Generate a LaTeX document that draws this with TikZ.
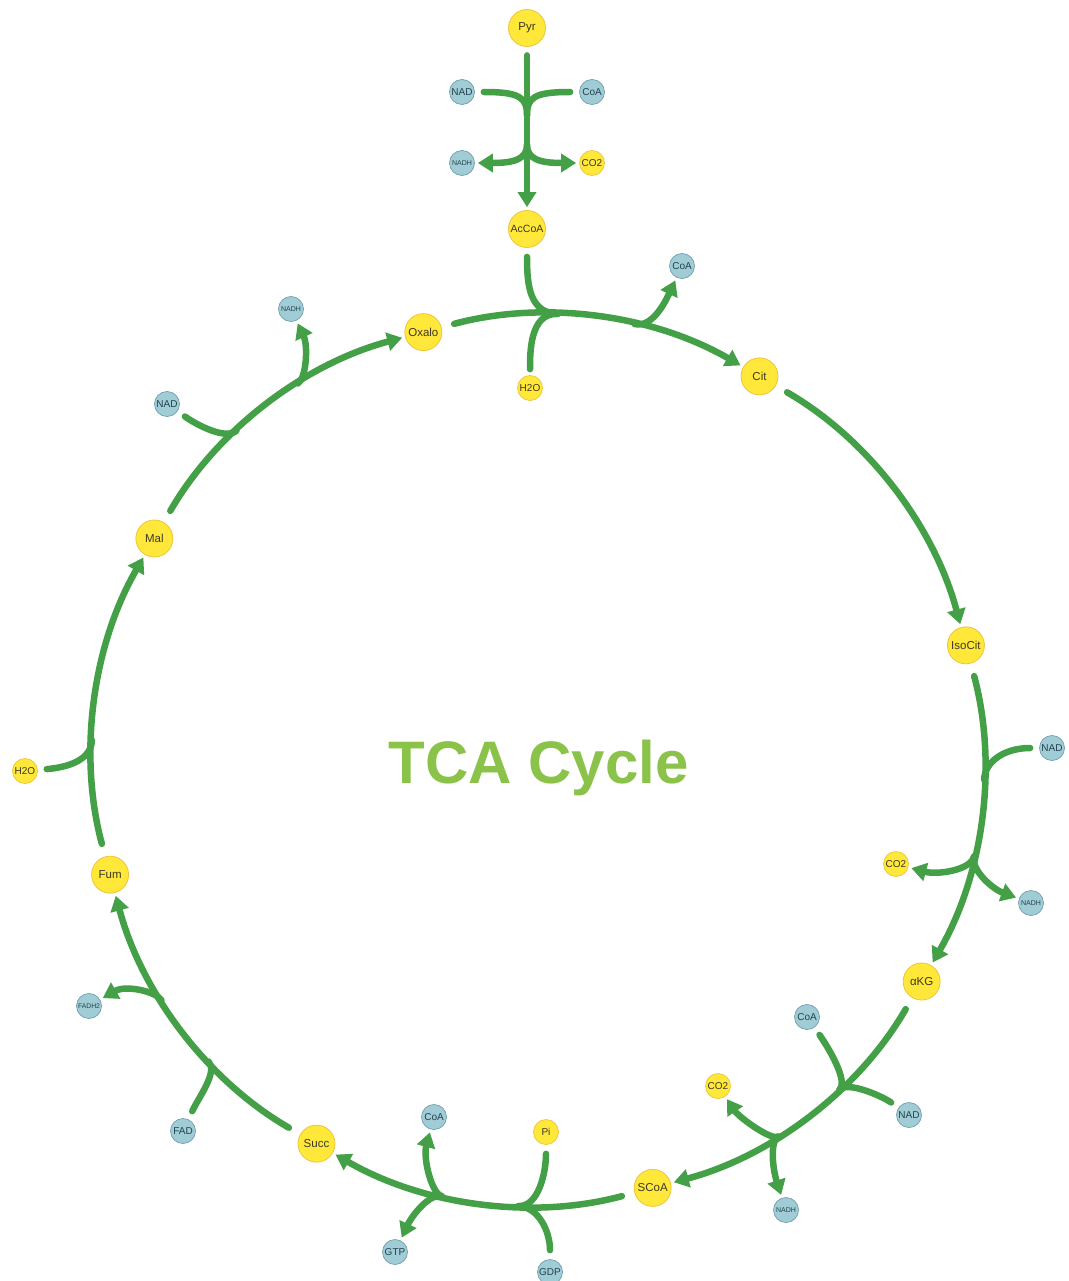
\documentclass[tikz,border=0pt]{standalone}
\usepackage{fontspec}
\setmainfont{Liberation Sans}
\usetikzlibrary{arrows.meta,calc}
\definecolor{metfill}{RGB}{255,232,58}
\definecolor{metdraw}{RGB}{238,196,60}
\definecolor{mettext}{RGB}{60,56,40}
\definecolor{coffill}{RGB}{160,204,214}
\definecolor{cofdraw}{RGB}{112,158,172}
\definecolor{coftext}{RGB}{36,66,78}
\definecolor{rxgreen}{RGB}{67,160,71}
\definecolor{titlegreen}{RGB}{139,195,74}
\tikzset{
  met/.style={circle, draw=metdraw, fill=metfill, line width=0.8pt, minimum size=37pt, inner sep=0pt, text=mettext, font=\fontsize{11.5}{12}\selectfont},
  cof/.style={circle, line width=0.7pt, minimum size=25pt, inner sep=0pt, font=\fontsize{10}{10}\selectfont},
  cofy/.style={cof, draw=metdraw, fill=metfill, text=mettext},
  cofb/.style={cof, draw=cofdraw, fill=coffill, text=coftext},
  tinytext/.style={font=\fontsize{7}{7}\selectfont},
  rxn/.style={draw=rxgreen, line width=6.5pt, line cap=round},
  prod/.style={rxn, -{Triangle[length=15pt,width=18pt]}, shorten >=3pt},
  subs/.style={rxn, shorten <=9pt},
  mainarc/.style={prod, shorten <=13pt},
  arcfortyfive/.style={bend left=22.5, looseness=0.885},
  jn/.style={coordinate},
}
\begin{document}
\begin{tikzpicture}[x=1pt,y=1pt]
\useasboundingbox (0,0) rectangle (1068,-1281);
\coordinate (C) at (538,-760);

% main metabolites
\node[met] (Pyr) at (527,-28) {Pyr};
\node[met, font=\fontsize{10.5}{11}\selectfont] (AcCoA) at (527,-229) {AcCoA};
\node[met] (Oxalo) at ([shift={(105:443pt)}]C) {Oxalo};
\node[met] (Cit) at ([shift={(60:443pt)}]C) {Cit};
\node[met] (IsoCit) at ([shift={(15:443pt)}]C) {IsoCit};
\node[met] (aKG) at ([shift={(-30:443pt)}]C) {αKG};
\node[met] (SCoA) at ([shift={(-75:443pt)}]C) {SCoA};
\node[met] (Succ) at ([shift={(-120:443pt)}]C) {Succ};
\node[met] (Fum) at ([shift={(-165:443pt)}]C) {Fum};
\node[met] (Mal) at ([shift={(150:443pt)}]C) {Mal};

% cofactors
\node[cofb] (NADa) at (462,-92) {NAD};
\node[cofb] (CoAa) at (592,-92) {CoA};
\node[cofb, tinytext] (NADHa) at (462,-163) {NADH};
\node[cofy] (COa) at (592,-163) {CO2};
\node[cofb] (CoAb) at (682,-266) {CoA};
\node[cofy] (HOb) at (530,-388) {H2O};
\node[cofb] (NADc) at (1052,-748) {NAD};
\node[cofy] (COc) at (896,-864) {CO2};
\node[cofb, tinytext] (NADHc) at (1031,-903) {NADH};
\node[cofb] (CoAd) at (807,-1017) {CoA};
\node[cofb] (NADd) at (909,-1115) {NAD};
\node[cofy] (COd) at (718,-1086) {CO2};
\node[cofb, tinytext] (NADHd) at (786,-1210) {NADH};
\node[cofb] (CoAe) at (434,-1117) {CoA};
\node[cofy] (Pie) at (546,-1132) {Pi};
\node[cofb] (GTPe) at (395,-1252) {GTP};
\node[cofb] (GDPe) at (550,-1272) {GDP};
\node[cofb] (FADf) at (183,-1131) {FAD};
\node[cofb, font=\fontsize{6.8}{7}\selectfont] (FADHf) at (89,-1006) {FADH2};
\node[cofy] (HOg) at (25,-771) {H2O};
\node[cofb] (NADh) at (167,-404) {NAD};
\node[cofb, tinytext] (NADHh) at (291,-309) {NADH};

% main reactions (junction points placed on the drawn curves)
\draw[prod, shorten <=8.5pt] (Pyr) -- node[jn, pos=0.42] (pa) {} node[jn, pos=0.6] (qa) {} (AcCoA);
\draw[mainarc] (Oxalo) to[arcfortyfive] node[jn, pos=0.375] (mb) {} node[jn, pos=0.625] (bb) {} (Cit);
\draw[mainarc] (Cit) to[arcfortyfive] (IsoCit);
\draw[mainarc] (IsoCit) to[arcfortyfive] node[jn, pos=0.375] (mc) {} node[jn, pos=0.625] (bc) {} (aKG);
\draw[mainarc] (aKG) to[arcfortyfive] node[jn, pos=0.375] (md) {} node[jn, pos=0.625] (bd) {} (SCoA);
\draw[mainarc] (SCoA) to[arcfortyfive] node[jn, pos=0.375] (me) {} node[jn, pos=0.625] (be) {} (Succ);
\draw[mainarc] (Succ) to[arcfortyfive] node[jn, pos=0.375] (mf) {} node[jn, pos=0.625] (bf) {} (Fum);
\draw[mainarc] (Fum) to[arcfortyfive] node[jn, pos=0.375] (mg) {} (Mal);
\draw[mainarc] (Mal) to[arcfortyfive] node[jn, pos=0.375] (mh) {} node[jn, pos=0.625] (bh) {} (Oxalo);

% Pyr -> AcCoA
\draw[subs] (NADa) to[out=0, in=90, out distance=45pt, in distance=18pt] (pa);
\draw[subs] (CoAa) to[out=180, in=90, out distance=45pt, in distance=18pt] (pa);
\draw[prod] (qa) to[out=-90, in=0, out distance=14pt, in distance=40pt] (NADHa);
\draw[prod] (qa) to[out=-90, in=180, out distance=14pt, in distance=40pt] (COa);

% citrate synthase
\draw[subs] (AcCoA) to[out=-90, in=177.5, out distance=38pt, in distance=28pt] (mb);
\draw[subs, shorten <=6pt] (HOb) to[out=90, in=177.5, out distance=22pt, in distance=28pt] (mb);
\draw[prod] (bb) to[out=-12.5, in=245, out distance=18pt, in distance=28pt] (CoAb);

% isocitrate dehydrogenase
\draw[subs] (NADc) to[out=180, in=87.5, out distance=35pt, in distance=18pt] (mc);
\draw[prod] (bc) to[out=-102.5, in=-15, out distance=14pt, in distance=30pt] (COc);
\draw[prod] (bc) to[out=-102.5, in=160, out distance=14pt, in distance=28pt] (NADHc);

% alpha-KG dehydrogenase
\draw[subs] (CoAd) to[out=-55, in=42.5, out distance=25pt, in distance=12pt] (md);
\draw[subs] (NADd) to[out=145, in=42.5, out distance=20pt, in distance=12pt] (md);
\draw[prod] (bd) to[out=-147.5, in=-56, out distance=8pt, in distance=25pt] (COd);
\draw[prod] (bd) to[out=-147.5, in=108, out distance=10pt, in distance=30pt] (NADHd);

% succinyl-CoA synthetase
\draw[subs] (Pie) to[out=-90, in=-2.5, out distance=28pt, in distance=20pt] (me);
\draw[subs] (GDPe) to[out=90, in=-2.5, out distance=28pt, in distance=20pt] (me);
\draw[prod] (be) to[out=167.5, in=-105, out distance=10pt, in distance=30pt] (CoAe);
\draw[prod] (be) to[out=167.5, in=65, out distance=12pt, in distance=28pt] (GTPe);

% succinate dehydrogenase
\draw[subs] (FADf) to[out=65, in=-47.5, out distance=25pt, in distance=14pt] (mf);
\draw[prod] (bf) to[out=122.5, in=30, out distance=10pt, in distance=30pt] (FADHf);

% fumarase
\draw[subs] (HOg) to[out=5, in=-92.5, out distance=30pt, in distance=20pt] (mg);

% malate dehydrogenase
\draw[subs] (NADh) to[out=-35, in=-137.5, out distance=25pt, in distance=14pt] (mh);
\draw[prod] (bh) to[out=32.5, in=-65, out distance=10pt, in distance=28pt] (NADHh);

% title
\node[anchor=base, text=titlegreen, font=\fontsize{60}{60}\selectfont\bfseries] (title) at (538.5,-783) {TCA Cycle};
\end{tikzpicture}
\end{document}
